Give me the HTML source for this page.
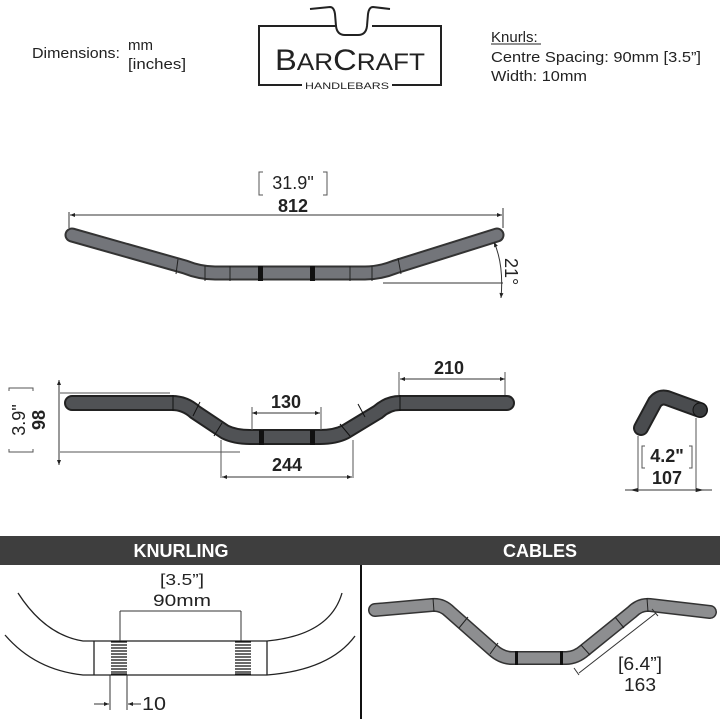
<!DOCTYPE html>
<html><head><meta charset="utf-8"><style>
html,body{margin:0;padding:0;background:#fff;}
svg{display:block;font-family:"Liberation Sans",Arial,sans-serif;}
</style></head><body>
<svg width="720" height="719" viewBox="0 0 720 719" xmlns="http://www.w3.org/2000/svg">
<defs>
<marker id="a" viewBox="0 0 10 10" refX="10" refY="5" markerWidth="7" markerHeight="5" orient="auto-start-reverse"><path d="M0,1 L10,5 L0,9z" fill="#222"/></marker>
</defs>
<rect width="720" height="719" fill="#fff"/>
<!-- header text -->
<text x="32" y="58" font-size="15" fill="#222" textLength="88" lengthAdjust="spacingAndGlyphs">Dimensions:</text>
<text x="128" y="50" font-size="15" fill="#222">mm</text>
<text x="128" y="69" font-size="15" fill="#222" textLength="58" lengthAdjust="spacingAndGlyphs">[inches]</text>
<text x="491" y="42" font-size="15" fill="#222">Knurls:</text>
<line x1="491" y1="44" x2="541" y2="44" stroke="#222" stroke-width="1"/>
<text x="491" y="62" font-size="15" fill="#222" textLength="210" lengthAdjust="spacingAndGlyphs">Centre Spacing: 90mm [3.5”]</text>
<text x="491" y="81" font-size="15" fill="#222" textLength="96" lengthAdjust="spacingAndGlyphs">Width: 10mm</text>
<!-- logo -->
<g stroke="#222" fill="none" stroke-width="2">
<path d="M337,26 L259,26 L259,85 L302,85"/>
<path d="M372,26 L441,26 L441,85 L392,85"/>
<path d="M310,9 L330,7 Q334,7 335,14 L336,26 Q337,35 345,35 L358,35 Q366,35 367,26 L368,14 Q369,7 373,7 L390,9"/>
</g>
<text x="350" y="70" font-size="30" fill="#222" text-anchor="middle" textLength="150" lengthAdjust="spacingAndGlyphs">B<tspan font-size="24">AR</tspan>C<tspan font-size="24">RAFT</tspan></text>
<text x="347" y="89" font-size="9" fill="#222" text-anchor="middle" textLength="84" lengthAdjust="spacingAndGlyphs">HANDLEBARS</text>

<!-- top view -->
<g fill="none" stroke-linecap="round">
<path d="M72,235 L185,267 Q200,273 215,273 L365,273 Q380,273 395,267 L497,235" stroke="#333" stroke-width="15"/>
<path d="M72,235 L185,267 Q200,273 215,273 L365,273 Q380,273 395,267 L497,235" stroke="#73757a" stroke-width="11"/>
</g>
<g stroke="#222" stroke-width="1">
<line x1="178" y1="259" x2="176" y2="274"/><line x1="205" y1="266" x2="205" y2="281"/><line x1="230" y1="266" x2="230" y2="281"/><line x1="350" y1="266" x2="350" y2="281"/><line x1="372" y1="266" x2="372" y2="281"/><line x1="398" y1="258" x2="401" y2="274"/>
</g>
<rect x="258" y="266" width="5" height="15" fill="#111"/><rect x="310" y="266" width="5" height="15" fill="#111"/>
<line x1="70" y1="215" x2="502" y2="215" stroke="#333" marker-start="url(#a)" marker-end="url(#a)"/>
<line x1="69" y1="212" x2="69" y2="228" stroke="#333"/><line x1="503" y1="208" x2="503" y2="228" stroke="#333"/>
<text x="293" y="189" font-size="18" fill="#222" text-anchor="middle">31.9"</text>
<path d="M263,172 h-4 v23 h4 M323,172 h4 v23 h-4" fill="none" stroke="#555"/>
<text x="293" y="212" font-size="18" font-weight="bold" fill="#222" text-anchor="middle">812</text>
<line x1="383" y1="283" x2="503" y2="283" stroke="#333"/>
<path d="M494,242 Q504,265 501,298" fill="none" stroke="#333" marker-start="url(#a)" marker-end="url(#a)"/>
<text transform="translate(505,258) rotate(90)" font-size="18" fill="#222">21°</text>

<!-- front view -->
<g fill="none">
<path d="M72,403 L172,403 Q185,403 195,412 L225,432 Q235,437 250,437 L320,437 Q335,437 345,432 L378,412 Q388,403 400,403 L507,403" stroke="#222" stroke-width="16" stroke-linecap="round"/>
<path d="M72,403 L172,403 Q185,403 195,412 L225,432 Q235,437 250,437 L320,437 Q335,437 345,432 L378,412 Q388,403 400,403 L507,403" stroke="#505255" stroke-width="12" stroke-linecap="round"/>
</g>
<g stroke="#111" stroke-width="1">
<line x1="173" y1="395" x2="173" y2="411"/><line x1="200" y1="402" x2="193" y2="416"/><line x1="222" y1="423" x2="214" y2="436"/><line x1="340" y1="424" x2="350" y2="436"/><line x1="358" y1="404" x2="365" y2="417"/><line x1="400" y1="395" x2="400" y2="411"/>
</g>
<rect x="259" y="430" width="5" height="15" fill="#111"/><rect x="310" y="430" width="5" height="15" fill="#111"/>
<line x1="60" y1="393" x2="170" y2="393" stroke="#555"/><line x1="60" y1="452" x2="240" y2="452" stroke="#555"/>
<line x1="59" y1="380" x2="59" y2="465" stroke="#333" marker-start="url(#a)" marker-end="url(#a)"/>
<text transform="translate(45,420) rotate(-90)" font-size="18" font-weight="bold" fill="#222" text-anchor="middle">98</text>
<text transform="translate(25,420) rotate(-90)" font-size="18" fill="#222" text-anchor="middle">3.9"</text>
<path d="M9,391 v-3 h24 v3 M9,449 v3 h24 v-3" fill="none" stroke="#555"/>
<line x1="252" y1="413" x2="320" y2="413" stroke="#333" marker-start="url(#a)" marker-end="url(#a)"/>
<line x1="252" y1="407" x2="252" y2="430" stroke="#555"/><line x1="321" y1="407" x2="321" y2="430" stroke="#555"/>
<text x="286" y="408" font-size="18" font-weight="bold" fill="#222" text-anchor="middle">130</text>
<line x1="222" y1="477" x2="352" y2="477" stroke="#333" marker-start="url(#a)" marker-end="url(#a)"/>
<line x1="221" y1="440" x2="221" y2="478" stroke="#555"/><line x1="353" y1="440" x2="353" y2="478" stroke="#555"/>
<text x="287" y="471" font-size="18" font-weight="bold" fill="#222" text-anchor="middle">244</text>
<line x1="400" y1="379" x2="505" y2="379" stroke="#333" marker-start="url(#a)" marker-end="url(#a)"/>
<line x1="399" y1="372" x2="399" y2="395" stroke="#555"/><line x1="505" y1="372" x2="505" y2="395" stroke="#555"/>
<text x="449" y="374" font-size="18" font-weight="bold" fill="#222" text-anchor="middle">210</text>

<!-- side view -->
<g fill="none" stroke-linecap="round">
<path d="M641,428 L655,402 Q660,396 667,398 L700,410" stroke="#222" stroke-width="16"/>
<path d="M641,428 L655,402 Q660,396 667,398 L700,410" stroke="#4a4c4f" stroke-width="12"/>
</g>
<circle cx="700" cy="410" r="7" fill="#3a3c3e" stroke="#111"/>
<line x1="638" y1="436" x2="638" y2="492" stroke="#555"/><line x1="696" y1="418" x2="696" y2="492" stroke="#555"/>
<line x1="625" y1="490" x2="712" y2="490" stroke="#333"/>
<path d="M630,490 l8,-2 v4z M704,490 l-8,-2 v4z" fill="#222"/>
<text x="667" y="462" font-size="18" font-weight="bold" fill="#222" text-anchor="middle">4.2"</text>
<path d="M645,446 h-3 v22 h3 M689,446 h3 v22 h-3" fill="none" stroke="#555"/>
<text x="667" y="484" font-size="18" font-weight="bold" fill="#222" text-anchor="middle">107</text>

<!-- banner -->
<rect x="0" y="536" width="720" height="29" fill="#3e3e3e"/>
<text x="181" y="557" font-size="18" font-weight="bold" fill="#fff" text-anchor="middle">KNURLING</text>
<text x="540" y="557" font-size="18" font-weight="bold" fill="#fff" text-anchor="middle">CABLES</text>
<line x1="361" y1="565" x2="361" y2="719" stroke="#111" stroke-width="2"/>

<!-- knurling -->
<g fill="none" stroke="#222" stroke-width="1.3">
<path d="M18,593 Q45,635 83,641 L267,641 Q330,635 342,593"/>
<path d="M5,635 Q35,670 83,675 L267,675 Q330,670 355,636"/>
<line x1="94" y1="641" x2="94" y2="675"/>
<line x1="267" y1="641" x2="267" y2="675"/>
</g>
<g stroke="#111" stroke-width="1.2">
<path d="M111,642h16M111,645h16M111,648h16M111,651h16M111,654h16M111,657h16M111,660h16M111,663h16M111,666h16M111,669h16M111,672h16M111,674h16"/>
<path d="M235,642h16M235,645h16M235,648h16M235,651h16M235,654h16M235,657h16M235,660h16M235,663h16M235,666h16M235,669h16M235,672h16M235,674h16"/>
</g>
<line x1="120" y1="611" x2="120" y2="641" stroke="#333"/><line x1="241" y1="611" x2="241" y2="641" stroke="#333"/>
<line x1="120" y1="611" x2="241" y2="611" stroke="#333"/>
<text x="182" y="585" font-size="16" fill="#222" text-anchor="middle" textLength="44" lengthAdjust="spacingAndGlyphs">[3.5”]</text>
<text x="182" y="606" font-size="17" fill="#222" text-anchor="middle" textLength="58" lengthAdjust="spacingAndGlyphs">90mm</text>
<line x1="110" y1="675" x2="110" y2="710" stroke="#333"/><line x1="127" y1="675" x2="127" y2="710" stroke="#333"/>
<line x1="94" y1="704" x2="109" y2="704" stroke="#333" marker-end="url(#a)"/>
<line x1="141" y1="704" x2="128" y2="704" stroke="#333" marker-end="url(#a)"/>
<text x="142" y="710" font-size="18" fill="#222" textLength="24" lengthAdjust="spacingAndGlyphs">10</text>

<!-- cables -->
<g fill="none" stroke-linecap="round">
<path d="M375,610 L432,605 Q442,604 450,612 L493,650 Q502,658 512,658 L566,658 Q576,658 585,650 L632,612 Q640,604 650,605 L710,612" stroke="#333" stroke-width="14"/>
<path d="M375,610 L432,605 Q442,604 450,612 L493,650 Q502,658 512,658 L566,658 Q576,658 585,650 L632,612 Q640,604 650,605 L710,612" stroke="#8d8e90" stroke-width="11"/>
</g>
<g stroke="#222" stroke-width="1">
<line x1="433" y1="598" x2="434" y2="612"/><line x1="468" y1="617" x2="459" y2="628"/><line x1="498" y1="643" x2="490" y2="654"/><line x1="581" y1="645" x2="590" y2="655"/><line x1="615" y1="617" x2="624" y2="628"/><line x1="647" y1="598" x2="648" y2="612"/>
</g>
<rect x="515" y="651" width="3" height="14" fill="#111"/><rect x="560" y="651" width="3" height="14" fill="#111"/>
<line x1="574" y1="668" x2="579" y2="675" stroke="#333"/><line x1="652" y1="609" x2="658" y2="616" stroke="#333"/>
<line x1="579" y1="673" x2="656" y2="613" stroke="#333"/>
<text x="640" y="670" font-size="18" fill="#222" text-anchor="middle" textLength="44" lengthAdjust="spacingAndGlyphs">[6.4”]</text>
<text x="640" y="691" font-size="18" fill="#222" text-anchor="middle" textLength="32" lengthAdjust="spacingAndGlyphs">163</text>
</svg>
</body></html>
